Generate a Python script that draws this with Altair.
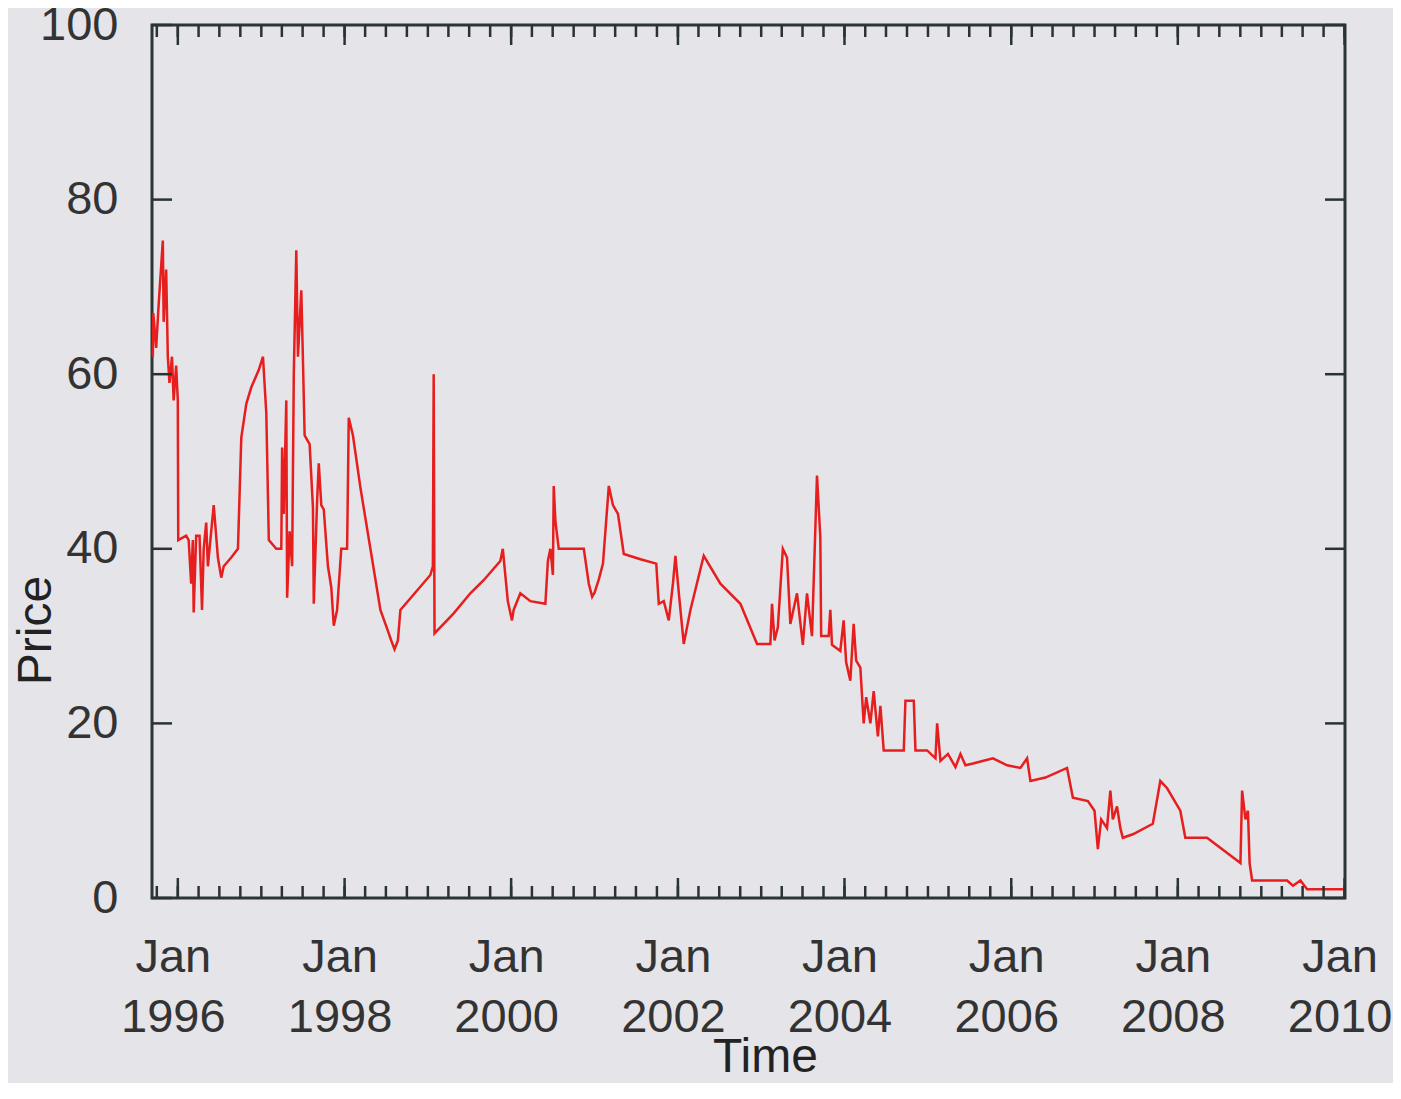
import math
import altair as alt
import pandas as pd

# ---- data (decimal year, price) ----
years = [1995.70, 1995.705, 1995.74, 1995.77, 1995.82, 1995.83, 1995.86, 1995.87, 1995.88, 1995.90,
         1995.93, 1995.95, 1995.98, 1996.00, 1996.005, 1996.10, 1996.13, 1996.16, 1996.18, 1996.19,
         1996.22, 1996.26, 1996.29, 1996.31, 1996.34, 1996.36, 1996.40, 1996.43, 1996.48, 1996.52,
         1996.55, 1996.64, 1996.72, 1996.76, 1996.82, 1996.88, 1996.97, 1997.02, 1997.06, 1997.09,
         1997.18, 1997.24, 1997.25, 1997.27, 1997.30, 1997.31, 1997.34, 1997.37, 1997.39, 1997.42,
         1997.44, 1997.48, 1997.50, 1997.52, 1997.58, 1997.62, 1997.63, 1997.67, 1997.69, 1997.72,
         1997.75, 1997.80, 1997.84, 1997.87, 1997.91, 1997.96, 1998.03, 1998.05, 1998.10, 1998.19,
         1998.31, 1998.43, 1998.52, 1998.56, 1998.60, 1998.64, 1998.67, 1998.85, 1999.03, 1999.06,
         1999.07, 1999.08, 1999.31, 1999.51, 1999.67, 1999.87, 1999.90, 1999.92, 1999.96, 2000.01,
         2000.03, 2000.11, 2000.23, 2000.41, 2000.44, 2000.47, 2000.50, 2000.51, 2000.53, 2000.57,
         2000.87, 2000.93, 2000.97, 2001.00, 2001.05, 2001.10, 2001.17, 2001.22, 2001.28, 2001.35,
         2001.55, 2001.74, 2001.77, 2001.83, 2001.89, 2001.94, 2001.97, 2002.01, 2002.07, 2002.15,
         2002.31, 2002.51, 2002.75, 2002.95, 2003.11, 2003.13, 2003.16, 2003.20, 2003.26, 2003.31,
         2003.35, 2003.43, 2003.50, 2003.55, 2003.61, 2003.67, 2003.71, 2003.72, 2003.81, 2003.83,
         2003.85, 2003.95, 2003.99, 2004.02, 2004.07, 2004.11, 2004.14, 2004.19, 2004.23, 2004.26,
         2004.31, 2004.35, 2004.40, 2004.43, 2004.47, 2004.71, 2004.73, 2004.83, 2004.85, 2004.99,
         2005.09, 2005.11, 2005.15, 2005.24, 2005.33, 2005.39, 2005.45, 2005.54, 2005.78, 2005.95,
         2006.11, 2006.19, 2006.23, 2006.41, 2006.67, 2006.74, 2006.92, 2007.00, 2007.04, 2007.08,
         2007.15, 2007.19, 2007.22, 2007.27, 2007.31, 2007.34, 2007.46, 2007.70, 2007.79, 2007.87,
         2008.03, 2008.09, 2008.35, 2008.75, 2008.77, 2008.81, 2008.84, 2008.86, 2008.89, 2009.31,
         2009.38, 2009.47, 2009.55, 2009.98]

prices = [62, 67, 63, 68, 75.3, 66, 72, 67, 62, 59,
          62, 57, 61, 57, 41, 41.5, 41, 36, 41, 32.7,
          41.5, 41.5, 33, 40, 43, 38, 42, 45, 39, 36.7,
          38, 39, 40, 52.7, 56.6, 58.5, 60.5, 62, 55.5, 41,
          40, 40, 51.6, 44, 57, 34.4, 42, 38, 60, 74.2,
          62, 69.6, 61.6, 53, 52, 44.7, 33.7, 45.5, 49.8, 45,
          44.5, 38, 35.6, 31.2, 33, 40, 40, 55, 53, 47,
          40, 33, 30.6, 29.5, 28.5, 29.5, 33, 35, 37, 38,
          60, 30.3, 32.6, 34.9, 36.4, 38.6, 40, 38, 34, 31.8,
          33, 34.9, 34, 33.7, 38.6, 40, 37, 47.2, 43.2, 40,
          40, 36, 34.5, 35, 36.5, 38.3, 47.2, 45, 44, 39.4,
          38.8, 38.3, 33.7, 34, 31.8, 36, 39.2, 35, 29.1, 33,
          39.2, 36, 33.7, 29.1, 29.1, 33.7, 29.5, 31, 40, 39,
          31.4, 34.9, 29, 34.9, 30, 48.4, 41.3, 30, 30, 33,
          29, 28.3, 31.8, 27, 24.9, 31.4, 27.2, 26.4, 20, 23,
          20, 23.7, 18.5, 22, 16.9, 16.9, 22.6, 22.6, 16.9, 16.9,
          16, 20, 15.7, 16.5, 15, 16.5, 15.2, 15.4, 16, 15.2,
          14.9, 16, 13.4, 13.8, 14.9, 11.5, 11.1, 10, 5.6, 9,
          8, 12.3, 9, 10.5, 8, 6.9, 7.3, 8.5, 13.4, 12.6,
          10, 6.9, 6.9, 4, 12.3, 9, 10, 4, 2, 2,
          1.4, 2, 1, 1]

major_years = [1996, 1998, 2000, 2002, 2004, 2006, 2008, 2010]
y_ticks = [0, 20, 40, 60, 80, 100]
domain_years = [1995.69, 2010.005]


def to_date(y):
    yr = int(math.floor(y))
    start = pd.Timestamp(yr, 1, 1)
    end = pd.Timestamp(yr + 1, 1, 1)
    return start + (end - start) * (y - yr)


def iso(ts):
    return ts.strftime("%Y-%m-%dT%H:%M:%S")


df = pd.DataFrame({
    "idx": list(range(len(years))),
    "Time": [iso(to_date(y)) for y in years],
    "Price": prices,
})

major_df = pd.DataFrame({"Time": [f"{y}-01-01T00:00:00" for y in major_years]})
minor_dates = pd.date_range("1995-10-01", "2010-01-01", freq="QS")
minor_df = pd.DataFrame({"Time": [iso(t) for t in minor_dates]})
ytick_df = pd.DataFrame({"Price": y_ticks})

W, H = 1193, 873
dom = [iso(to_date(domain_years[0])), iso(to_date(domain_years[1]))]
xscale = alt.Scale(domain=dom)
yscale = alt.Scale(domain=[0, 100], nice=False, zero=False)
TICK = "#2a3333"
FONT = "Liberation Sans"

xaxis = alt.Axis(values=[alt.DateTime(year=y, month=1, date=1) for y in major_years],
                 labelExpr="[timeFormat(datum.value, '%b'), timeFormat(datum.value, '%Y')]",
                 ticks=False, domain=False, grid=False, labelPadding=36, labelOffset=-5,
                 labelLineHeight=60, labelFlush=False, labelOverlap=False,
                 title="Time", titleX=613, titleY=173, titleBaseline="alphabetic",
                 titleAlign="center")
yaxis = alt.Axis(values=y_ticks, ticks=False, domain=False, grid=False,
                 labelPadding=34, labelFlush=False,
                 title="Price", titleX=-116, titleY=605, titleAngle=270,
                 titleBaseline="middle", titleAlign="center")

line = alt.Chart(df).mark_line(color="#e61e1e", strokeWidth=2.5).encode(
    x=alt.X("Time:T", scale=xscale, axis=xaxis),
    y=alt.Y("Price:Q", scale=yscale, axis=yaxis),
    order="idx:Q",
)


def xrules(data, length):
    base = alt.Chart(data).mark_rule(color=TICK, strokeWidth=2.5)
    top = base.encode(x=alt.X("Time:T", scale=xscale, axis=xaxis),
                      y=alt.value(0), y2=alt.value(length))
    bottom = base.encode(x=alt.X("Time:T", scale=xscale, axis=xaxis),
                         y=alt.value(H), y2=alt.value(H - length))
    return [top, bottom]


ybase = alt.Chart(ytick_df).mark_rule(color=TICK, strokeWidth=2.5)
yleft = ybase.encode(y=alt.Y("Price:Q", scale=yscale, axis=yaxis), x=alt.value(0), x2=alt.value(20))
yright = ybase.encode(y=alt.Y("Price:Q", scale=yscale, axis=yaxis), x=alt.value(W - 20), x2=alt.value(W))

chart = alt.layer(
    line, *xrules(minor_df, 12), *xrules(major_df, 20), yleft, yright
).properties(
    width=W, height=H,
    autosize=alt.AutoSizeParams(type="none"),
    padding={"left": 144, "top": 17, "right": 48, "bottom": 185},
    background="#e5e4e9",
).configure_view(
    stroke="#2b3636", strokeWidth=3,
).configure_axis(
    labelFont=FONT, labelFontSize=47, labelColor="#333333",
    titleFont=FONT, titleFontSize=48, titleFontWeight="normal", titleColor="#222222",
)

chart.save("out.html", embed_options={"renderer": "svg", "actions": False})
